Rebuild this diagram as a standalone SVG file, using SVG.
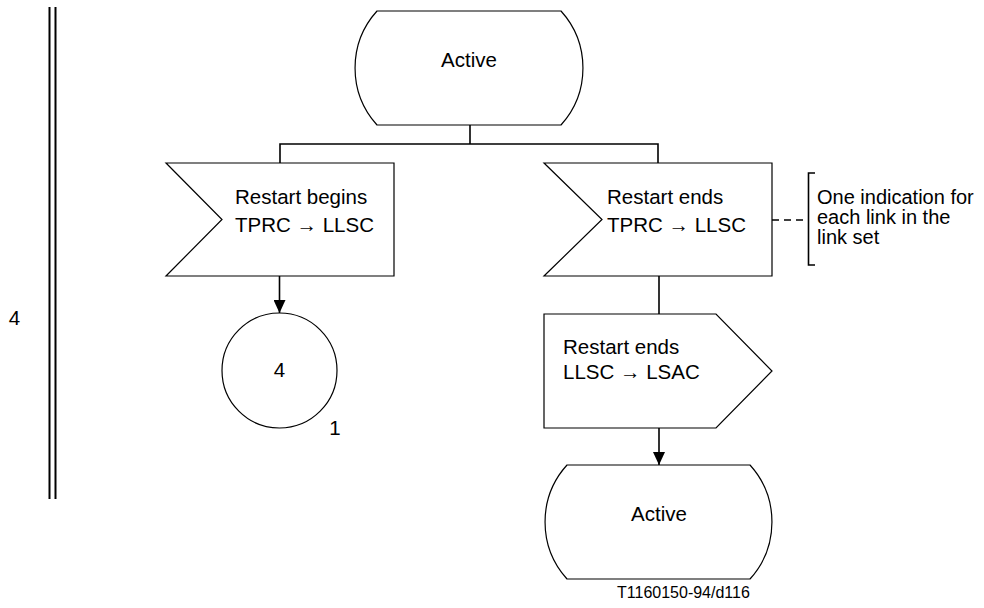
<svg xmlns="http://www.w3.org/2000/svg" width="984" height="608" viewBox="0 0 984 608">
<style>
  .shape { fill: #fff; stroke: #000; stroke-width: 1.2; }
  .conn { fill: none; stroke: #000; stroke-width: 1.6; }
  .t { font-family: "Liberation Sans", Arial, sans-serif; font-size: 20.5px; fill: #000; }
  .note { font-family: "Liberation Sans", Arial, sans-serif; font-size: 20px; fill: #000; }
  .small { font-family: "Liberation Sans", Arial, sans-serif; font-size: 16px; fill: #000; }
</style>
<defs>
  <marker id="arrow" markerWidth="14" markerHeight="12" refX="13" refY="6" orient="auto" markerUnits="userSpaceOnUse">
    <path d="M0,0 L13,6 L0,12 Z" fill="#000"/>
  </marker>
</defs>

<g id="margin">
  <line x1="49.5" y1="7" x2="49.5" y2="499" stroke="#000" stroke-width="2"/>
  <line x1="55.5" y1="7" x2="55.5" y2="499" stroke="#000" stroke-width="2"/>
  <text class="t" x="14.5" y="325" text-anchor="middle">4</text>
</g>

<g id="connectors">
  <polyline class="conn" points="470,125 470,144"/>
  <polyline class="conn" points="280,163 280,144 658,144 658,163"/>
  <line class="conn" x1="279.5" y1="276" x2="279.5" y2="313" marker-end="url(#arrow)"/>
  <line class="conn" x1="659" y1="276" x2="659" y2="314"/>
  <line class="conn" x1="659" y1="428" x2="659" y2="465" marker-end="url(#arrow)"/>
  <line x1="772" y1="220" x2="807" y2="220" stroke="#000" stroke-width="1.6" stroke-dasharray="7,5"/>
</g>

<g id="active-top">
  <path class="shape" d="M377,11 H561 A85,85 0 0 1 561,125 H377 A85,85 0 0 1 377,11 Z"/>
  <text class="t" x="469" y="67" text-anchor="middle">Active</text>
</g>

<g id="restart-begins">
  <path class="shape" d="M166,163 H394 V276 H166 L222,219.5 Z"/>
  <text class="t" x="235" y="204">Restart begins</text>
  <text class="t" x="235" y="232">TPRC → LLSC</text>
</g>

<g id="restart-ends-in">
  <path class="shape" d="M544,163 H772 V276 H544 L602,219.5 Z"/>
  <text class="t" x="607" y="204">Restart ends</text>
  <text class="t" x="607" y="232">TPRC → LLSC</text>
</g>

<g id="comment">
  <path d="M815,173 H808.5 V265 H815" fill="none" stroke="#000" stroke-width="1.6"/>
  <text class="note" x="817" y="204">One indication for</text>
  <text class="note" x="817" y="224">each link in the</text>
  <text class="note" x="817" y="244">link set</text>
</g>

<g id="connector-4">
  <circle class="shape" cx="279.5" cy="370.5" r="57.5"/>
  <text class="t" x="279.5" y="377" text-anchor="middle">4</text>
  <text class="t" x="335" y="435" text-anchor="middle">1</text>
</g>

<g id="restart-ends-out">
  <path class="shape" d="M544,314 H716 L772,371 L716,428 H544 Z"/>
  <text class="t" x="563" y="354">Restart ends</text>
  <text class="t" x="563" y="379">LLSC → LSAC</text>
</g>

<g id="active-bottom">
  <path class="shape" d="M567,465 H750 A85,85 0 0 1 750,579 H567 A85,85 0 0 1 567,465 Z"/>
  <text class="t" x="659" y="521" text-anchor="middle">Active</text>
</g>

<text class="small" x="617" y="598">T1160150-94/d116</text>
</svg>
